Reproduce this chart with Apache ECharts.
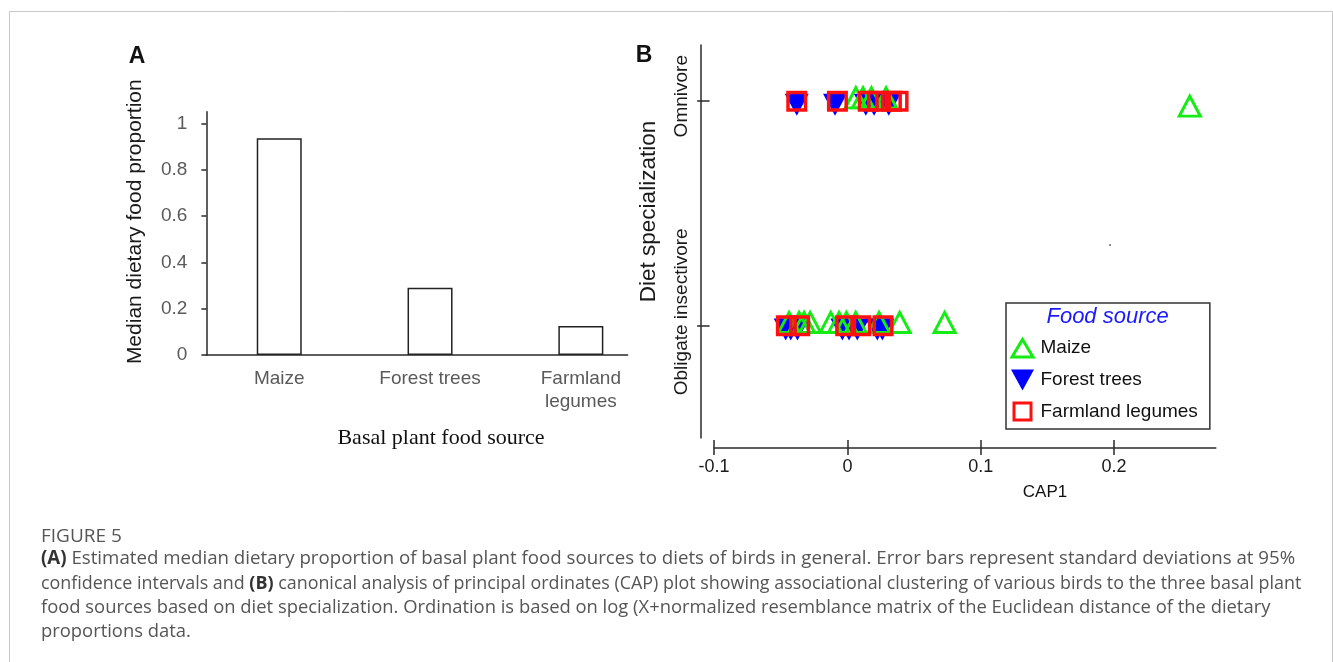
<!DOCTYPE html>
<html>
<head>
<meta charset="utf-8">
<script src="https://cdn.jsdelivr.net/npm/echarts@6.0.0/dist/echarts.min.js"></script>
<style>
html,body{margin:0;padding:0;background:#ffffff;}
#chart{width:1333px;height:662px;}
</style>
</head>
<body>
<div id="chart"></div>
<script>
// ---------- Panel A data ----------
const foodSources = ['Maize', 'Forest trees', 'Farmland legumes'];
const foodTickLabels = ['Maize', 'Forest trees', 'Farmland\nlegumes'];
const medianProportion = [0.935, 0.29, 0.125];
const proportionTicks = [0, 0.2, 0.4, 0.6, 0.8, 1];

// ---------- Panel B data (CAP1 vs diet specialization: 0 = obligate insectivore, 1 = omnivore) ----------
const dietLabels = ['Obligate insectivore', 'Omnivore'];
const dietTicks = [0, 1];
const capTicks = [-0.1, 0, 0.1, 0.2];

const maizeCap  = [-0.0438, -0.0363, -0.0325, -0.028, -0.0125, -0.0063, -0.0008, 0.0062, 0.0237, 0.0392, 0.0729,
                   0.0063, 0.0117, 0.018, 0.029, 0.2568];
const maizeDiet = [0, 0, 0, 0, 0, 0, 0, 0, 0, 0, 0,
                   1, 1, 1, 1, 0.963];

const forestCap  = [-0.0463, -0.0425, -0.0375, -0.0038, 0.0012, 0.0074, 0.0224, 0.0262,
                    -0.038, -0.0093, 0.0138, 0.020, 0.031];
const forestDiet = [0, 0, 0, 0, 0, 0, 0, 0,
                    1, 1, 1, 1, 1];

const legumeCap  = [-0.0458, -0.0358, -0.0013, 0.010, 0.0267,
                    -0.038, -0.0075, 0.0156, 0.0225, 0.033, 0.038];
const legumeDiet = [0, 0, 0, 0, 0,
                    1, 1, 1, 1, 1, 1];

const dotCap = [0.197];
const dotDiet = [0.359];

// ---------- caption ----------
const captionLines = [
  '{b|(A)} Estimated median dietary proportion of basal plant food sources to diets of birds in general. Error bars represent standard deviations at 95%',
  'confidence intervals and {b|(B)} canonical analysis of principal ordinates (CAP) plot showing associational clustering of various birds to the three basal plant',
  'food sources based on diet specialization. Ordination is based on log (X+normalized resemblance matrix of the Euclidean distance of the dietary',
  'proportions data.'
];

// ---------- styles ----------
const GREEN = '#14ec14';
const BLUE = '#0000ff';
const RED = '#ff1010';
const AXIS = '#2a2a2a';
const SANS = '"Liberation Sans", Arial, sans-serif';
const CAPFONT = '"Open Sans", "Noto Sans", sans-serif';
const captionY = [559, 584, 608, 632];
const captionSize = [18.7, 17.9, 18.4, 18.4];

const pairs = (xs, ys) => xs.map((x, i) => [x, ys[i]]);

const chart = echarts.init(document.getElementById('chart'), null, {renderer: 'canvas'});

const axisLineStyle = {color: AXIS, width: 1.5};
const capStyle = (txt, i) => ({
  type: 'text', z: 100, x: 41, y: captionY[i],
  style: {text: txt, fontSize: captionSize[i], fontFamily: CAPFONT, fill: '#555',
    rich: {b: {fontWeight: 'bold', fontSize: captionSize[i], fontFamily: CAPFONT, fill: '#333'}},
    textAlign: 'left', textVerticalAlign: 'middle', align: 'left', verticalAlign: 'middle'}
});

const option = {
  backgroundColor: '#ffffff',
  animation: false,
  grid: [
    {left: 206.4, top: 111.7, width: 421.2, height: 243.3},
    {left: 714.1, top: 45, width: 501.7, height: 393}
  ],
  xAxis: [
    {
      gridIndex: 0, type: 'value', min: -0.483, max: 2.31, position: 'bottom',
      axisLine: {show: true, onZero: false, lineStyle: axisLineStyle},
      axisTick: {show: false},
      splitLine: {show: false},
      axisLabel: {
        customValues: [0, 1, 2],
        formatter: v => foodTickLabels[Math.round(v)],
        fontSize: 19, lineHeight: 23, color: '#5a5a5a', fontFamily: SANS, margin: 12
      }
    },
    {
      gridIndex: 1, type: 'value', min: -0.1, max: 0.2763, position: 'bottom', offset: 10,
      axisLine: {show: true, onZero: false, lineStyle: axisLineStyle},
      axisTick: {show: true, length: 7, customValues: capTicks, lineStyle: axisLineStyle},
      splitLine: {show: false},
      axisLabel: {customValues: capTicks, fontSize: 18, color: '#1a1a1a', fontFamily: SANS, margin: 10}
    },
    {
      gridIndex: 1, type: 'value', min: -0.1, max: 0.2763, position: 'bottom', offset: 10,
      axisLine: {show: false, onZero: false},
      axisTick: {show: true, inside: true, length: 8, customValues: capTicks, lineStyle: axisLineStyle},
      splitLine: {show: false},
      axisLabel: {show: false}
    }
  ],
  yAxis: [
    {
      gridIndex: 0, type: 'value', min: 0, max: 1.05, position: 'left',
      axisLine: {show: true, onZero: false, lineStyle: axisLineStyle},
      axisTick: {show: true, length: 5, customValues: proportionTicks, lineStyle: axisLineStyle},
      splitLine: {show: false},
      axisLabel: {customValues: proportionTicks, fontSize: 19, color: '#5a5a5a', fontFamily: SANS, margin: 19}
    },
    {
      gridIndex: 1, type: 'value', min: -0.5, max: 1.25, position: 'left', offset: 13,
      axisLine: {show: true, onZero: false, lineStyle: axisLineStyle},
      axisTick: {show: true, length: 4, customValues: dietTicks, lineStyle: axisLineStyle},
      splitLine: {show: false},
      axisLabel: {
        customValues: [0.062, 1.022],
        formatter: v => dietLabels[v > 0.5 ? 1 : 0],
        rotate: 90, fontSize: 19, color: '#1a1a1a', fontFamily: SANS, margin: 10
      }
    },
    {
      gridIndex: 1, type: 'value', min: -0.5, max: 1.25, position: 'left', offset: 13,
      axisLine: {show: false, onZero: false},
      axisTick: {show: true, inside: true, length: 8.5, customValues: dietTicks, lineStyle: axisLineStyle},
      splitLine: {show: false},
      axisLabel: {show: false}
    }
  ],
  legend: {
    data: [
      {name: 'Maize', icon: 'path://M0,0M26,22M13,3L23.5,20.5L2.5,20.5Z',
       itemStyle: {color: 'rgba(0,0,0,0)', borderColor: GREEN, borderWidth: 3}},
      {name: 'Forest trees', icon: 'path://M0,0M26,22M1.5,1L24.5,1L13,22Z',
       itemStyle: {color: BLUE, borderWidth: 0}},
      {name: 'Farmland legumes', icon: 'path://M0,0M26,22M4.5,2.5L21.5,2.5L21.5,19.5L4.5,19.5Z',
       itemStyle: {color: 'rgba(0,0,0,0)', borderColor: RED, borderWidth: 3}}
    ],
    orient: 'vertical', left: 1006, top: 303,
    padding: [32, 12, 5, 2],
    itemWidth: 26, itemHeight: 22, itemGap: 8.5,
    borderColor: '#333', borderWidth: 1.5, backgroundColor: '#ffffff',
    selectedMode: false,
    textStyle: {fontSize: 19, color: '#111', fontFamily: SANS}
  },
  series: [
    {
      name: 'Median dietary food proportion', type: 'bar', xAxisIndex: 0, yAxisIndex: 0,
      data: foodSources.map((c, i) => [i, medianProportion[i]]),
      barWidth: 45,
      itemStyle: {color: '#ffffff', borderColor: '#222', borderWidth: 1.5},
      silent: true
    },
    {
      name: 'Forest trees', type: 'scatter', xAxisIndex: 1, yAxisIndex: 1,
      data: pairs(forestCap, forestDiet),
      symbol: 'path://M0,0L10,0L5,10Z', symbolSize: [24, 22], symbolOffset: [0, 3.7],
      itemStyle: {color: BLUE, opacity: 1}, z: 3
    },
    {
      name: 'Maize', type: 'scatter', xAxisIndex: 1, yAxisIndex: 1,
      data: pairs(maizeCap, maizeDiet),
      symbol: 'triangle', symbolSize: [21, 20], symbolOffset: [0, -3.3],
      itemStyle: {color: 'rgba(0,0,0,0)', borderColor: GREEN, borderWidth: 3, opacity: 1}, z: 4
    },
    {
      name: 'Farmland legumes', type: 'scatter', xAxisIndex: 1, yAxisIndex: 1,
      data: pairs(legumeCap, legumeDiet),
      symbol: 'rect', symbolSize: 17.5,
      itemStyle: {color: 'rgba(0,0,0,0)', borderColor: RED, borderWidth: 3.5, opacity: 1}, z: 5
    },
    {
      name: 'dot', type: 'scatter', xAxisIndex: 1, yAxisIndex: 1,
      data: pairs(dotCap, dotDiet), symbol: 'circle', symbolSize: 2,
      itemStyle: {color: '#444'}, silent: true
    }
  ],
  graphic: [
    {type: 'rect', z: 0, silent: true, shape: {x: 9.5, y: 11.5, width: 1323, height: 700},
     style: {fill: 'none', stroke: '#c8c8c8', lineWidth: 1}},
    {type: 'text', z: 100, x: 137, y: 57,
     style: {text: 'A', font: 'bold 23px ' + SANS, fill: '#111', textAlign: 'center', textVerticalAlign: 'middle', align: 'center', verticalAlign: 'middle'}},
    {type: 'text', z: 100, x: 644, y: 56,
     style: {text: 'B', font: 'bold 23px ' + SANS, fill: '#111', textAlign: 'center', textVerticalAlign: 'middle', align: 'center', verticalAlign: 'middle'}},
    {type: 'text', z: 100, x: 135, y: 221.7, rotation: Math.PI / 2,
     style: {text: 'Median dietary food proportion', font: '21px ' + SANS, fill: '#1a1a1a', textAlign: 'center', textVerticalAlign: 'middle', align: 'center', verticalAlign: 'middle'}},
    {type: 'text', z: 100, x: 441, y: 438,
     style: {text: 'Basal plant food source', font: '22px "Liberation Serif", "Times New Roman", serif', fill: '#111', textAlign: 'center', textVerticalAlign: 'middle', align: 'center', verticalAlign: 'middle'}},
    {type: 'text', z: 100, x: 649, y: 211.5, rotation: Math.PI / 2,
     style: {text: 'Diet specialization', font: '22.5px ' + SANS, fill: '#1a1a1a', textAlign: 'center', textVerticalAlign: 'middle', align: 'center', verticalAlign: 'middle'}},
    {type: 'text', z: 100, x: 1045, y: 492,
     style: {text: 'CAP1', font: '17px ' + SANS, fill: '#111', textAlign: 'center', textVerticalAlign: 'middle', align: 'center', verticalAlign: 'middle'}},
    {type: 'text', z: 100, x: 1107.6, y: 316.5,
     style: {text: 'Food source', font: 'italic 22px ' + SANS, fill: '#1a1aff', textAlign: 'center', textVerticalAlign: 'middle', align: 'center', verticalAlign: 'middle'}},
    {type: 'text', z: 100, x: 41, y: 537,
     style: {text: 'FIGURE 5', font: '19px ' + CAPFONT, fill: '#555', textAlign: 'left', textVerticalAlign: 'middle', align: 'left', verticalAlign: 'middle'}}
  ].concat(captionLines.map((t, i) => capStyle(t, i)))
};

chart.setOption(option);
</script>
</body>
</html>
